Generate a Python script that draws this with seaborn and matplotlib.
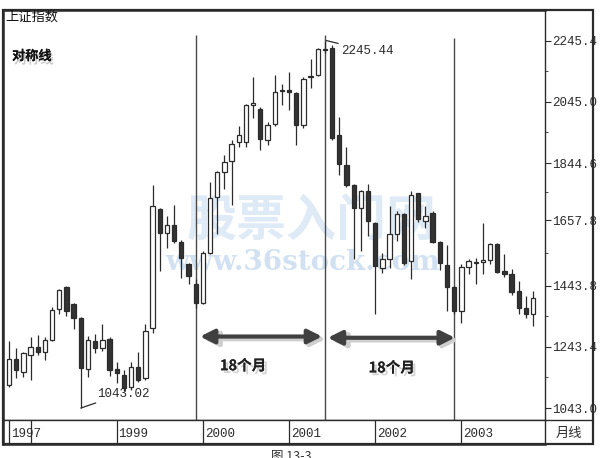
import matplotlib
matplotlib.use("Agg")
import matplotlib.pyplot as plt
import matplotlib.patches as mpatches
import matplotlib.patheffects as pe
import pandas as pd
import seaborn as sns

# monthly candles of the Shanghai index, Oct 1997 - Nov 2003
months = pd.period_range("1997-10", periods=74, freq="M")
opens = [1118, 1202, 1160, 1218, 1244, 1228, 1267, 1368, 1440, 1384,
         1338, 1170, 1264, 1238, 1270, 1170, 1150, 1111, 1176, 1140,
         1306, 1693, 1615, 1641, 1586, 1514, 1449, 1388, 1550, 1735,
         1816, 1852, 1914, 1914, 2035, 2021, 1920, 1972, 2083, 2083,
         2073, 1969, 2125, 2132, 2219, 2222, 1936, 1839, 1774, 1699,
         1754, 1648, 1501, 1530, 1612, 1677, 1524, 1745, 1654, 1680,
         1586, 1511, 1440, 1362, 1505, 1518, 1521, 1528, 1580, 1491,
         1482, 1426, 1371, 1352]
highs = [1264, 1238, 1225, 1274, 1283, 1277, 1375, 1433, 1443, 1388,
         1341, 1280, 1286, 1319, 1274, 1193, 1167, 1193, 1225, 1319,
         1774, 1696, 1670, 1709, 1592, 1517, 1465, 1556, 1784, 1820,
         1872, 1920, 1966, 2037, 2125, 2028, 1979, 2132, 2103, 2141,
         2076, 2125, 2184, 2222, 2245.44, 2230, 1995, 1898, 1777, 1758,
         1777, 1651, 1550, 1703, 1687, 1680, 1752, 1748, 1703, 1687,
         1589, 1576, 1443, 1514, 1531, 1534, 1648, 1583, 1583, 1547,
         1498, 1459, 1410, 1427]
lows = [1111, 1140, 1144, 1134, 1215, 1199, 1264, 1352, 1345, 1303,
        1043.02, 1144, 1222, 1231, 1147, 1124, 1099, 1101, 1128, 1134,
        1287, 1491, 1566, 1582, 1469, 1449, 1371, 1384, 1547, 1612,
        1761, 1709, 1898, 1898, 1992, 1888, 1904, 1966, 2034, 2018,
        1904, 1960, 2089, 2128, 2206, 1920, 1807, 1767, 1530, 1556,
        1605, 1352, 1485, 1501, 1589, 1511, 1466, 1651, 1631, 1583,
        1495, 1362, 1352, 1322, 1482, 1449, 1482, 1514, 1485, 1472,
        1413, 1352, 1339, 1313]
closes = [1205, 1166, 1222, 1244, 1225, 1267, 1365, 1430, 1361, 1339,
          1173, 1267, 1241, 1267, 1166, 1157, 1108, 1176, 1134, 1296,
          1703, 1615, 1641, 1589, 1534, 1475, 1388, 1550, 1729, 1816,
          1849, 1907, 1937, 2034, 2040, 1924, 1969, 2076, 2080, 2078,
          1969, 2119, 2128, 2219, 2216, 1927, 1842, 1774, 1696, 1754,
          1654, 1508, 1530, 1612, 1677, 1518, 1739, 1661, 1670, 1586,
          1518, 1440, 1362, 1505, 1524, 1521, 1528, 1580, 1488, 1482,
          1423, 1371, 1352, 1404]

price_ticks = [1043.0, 1243.4, 1443.8, 1657.8, 1844.6, 2045.0, 2245.4]
year_labels = ["1997", "1999", "2000", "2001", "2002", "2003"]
# symmetric line months: low of Dec 1999, top of Jun 2001, low of Dec 2002
sym_months = ["1999-12", "2001-06", "2002-12"]

df = pd.DataFrame({"month": months.astype(str), "open": opens, "high": highs,
                   "low": lows, "close": closes})
df["idx"] = range(len(df))
df["up"] = df["close"] >= df["open"]

sns.set_theme(style="white")
plt.rcParams["font.family"] = ["Noto Sans CJK SC", "DejaVu Sans"]
mono = ["Liberation Mono", "DejaVu Sans Mono"]

W, H = 600, 458
fig = plt.figure(figsize=(6, 4.58), dpi=100)
fig.patch.set_facecolor("white")

ax = fig.add_axes([3 / W, 1 - 420 / H, 542 / W, 410 / H])
ax2 = fig.add_axes([3 / W, 1 - 444 / H, 542 / W, 24 / H], sharex=ax)

ink = "#2b2b2b"
xmin, xmax = -0.84, 74.65
ymin, ymax = 1003.9, 2336.4

# watermark
ax.text(312 / W, 1 - 222 / H, "股票入门网", transform=fig.transFigure,
        ha="center", va="center", fontsize=36, fontweight="bold",
        color="#d3e3f3", alpha=0.75, zorder=0.5)
ax.text(303 / W, 1 - 262 / H, "www.36stock.com", transform=fig.transFigure,
        ha="center", va="center", fontsize=20, fontweight="bold",
        family="DejaVu Serif", color="#c3d8ee", alpha=0.75, zorder=0.5)

# candles
bw = 0.6
top = df[["open", "close"]].max(axis=1)
bot = df[["open", "close"]].min(axis=1)
ax.vlines(df["idx"], top, df["high"], color=ink, lw=0.9, zorder=2)
ax.vlines(df["idx"], df["low"], bot, color=ink, lw=0.9, zorder=2)
body = (top - bot).clip(lower=1.5)
colors = ["white" if u else "#333333" for u in df["up"]]
ax.bar(df["idx"], body, bottom=bot, width=bw, color=colors,
       edgecolor=ink, linewidth=0.9, zorder=3)

# symmetric vertical lines
sym_idx = [df.index[df["month"] == m][0] for m in sym_months]
ax.vlines(sym_idx, ymin, [2262, 2262, 2255], color="#4a4a4a", lw=1.0, zorder=1)


def double_arrow(x0, x1, y):
    sh = dict(arrowstyle="<|-|>,head_length=0.7,head_width=0.35",
              lw=3.4, color="#cfcfcf", shrinkA=0, shrinkB=0)
    ax.annotate("", xy=(x1 + 0.5, y - 8), xytext=(x0 + 0.5, y - 8),
                arrowprops=sh, zorder=4)
    ar = dict(arrowstyle="<|-|>,head_length=0.7,head_width=0.35",
              lw=3.0, color="#404040", shrinkA=0, shrinkB=0)
    ax.annotate("", xy=(x1, y), xytext=(x0, y), arrowprops=ar, zorder=5)


double_arrow(26.6, 43.6, 1277)
double_arrow(44.4, 62.1, 1273)

shadow = [pe.withSimplePatchShadow(offset=(2, -2), shadow_rgbFace="#aaaaaa",
                                   alpha=0.5), pe.Normal()]
ax.text(32.6, 1183, "18个月", ha="center", va="center", fontsize=10.5,
        fontweight="bold", color="#222222", path_effects=shadow, zorder=6)
ax.text(53.3, 1176, "18个月", ha="center", va="center", fontsize=10.5,
        fontweight="bold", color="#222222", path_effects=shadow, zorder=6)

# extreme annotations
ax.annotate("1043.02", xy=(10, 1043.02), xytext=(12.2, 1090),
            ha="left", va="center", fontsize=9, family=mono, color=ink,
            arrowprops=dict(arrowstyle="-", lw=0.9, color=ink,
                            shrinkA=0, shrinkB=0), zorder=6)
ax.annotate("2245.44", xy=(44.2, 2245.44), xytext=(46.3, 2212),
            ha="left", va="center", fontsize=9, family=mono, color=ink,
            arrowprops=dict(arrowstyle="-", lw=0.9, color=ink,
                            shrinkA=0, shrinkB=0), zorder=6)

# titles
fig.text(5 / W, 1 - 17 / H, "上证指数", ha="left", va="center",
         fontsize=9.5, color="#111111")
fig.text(12 / W, 1 - 56 / H, "对称线", ha="left", va="center",
         fontsize=9.5, fontweight="bold", color="#111111",
         path_effects=[pe.withSimplePatchShadow(offset=(1.5, -2.5),
                                                shadow_rgbFace="#888888",
                                                alpha=0.45), pe.Normal()])

# price axis
ax.set_xlim(xmin, xmax)
ax.set_ylim(ymin, ymax)
ax.yaxis.tick_right()
ax.set_yticks(price_ticks)
ax.set_yticklabels([f"{t:.1f}" for t in price_ticks], family=mono,
                   fontsize=9, color=ink)
ax.set_yticks([(a + b) / 2 for a, b in zip(price_ticks[:-1], price_ticks[1:])]
              + [price_ticks[-1] + 100], minor=True)
ax.tick_params(axis="y", which="major", direction="out", length=4, width=0.8,
               color=ink, pad=1, right=True, left=False)
ax.tick_params(axis="y", which="minor", direction="out", length=2, width=0.6,
               color=ink, right=True, left=False)
ax.tick_params(axis="x", bottom=False, labelbottom=False)
ax.grid(False)
for s in ax.spines.values():
    s.set_color(ink)
    s.set_linewidth(1.0)
ax.spines["left"].set_linewidth(1.8)
ax.spines["top"].set_linewidth(1.8)

# date strip
ax2.set_ylim(0, 1)
ax2.set_yticks([])
ax2.tick_params(axis="x", bottom=False, labelbottom=False)
ax2.grid(False)
for s in ax2.spines.values():
    s.set_color(ink)
    s.set_linewidth(1.0)
ax2.spines["left"].set_linewidth(1.8)
ax2.spines["bottom"].set_linewidth(1.8)
jan_idx = [i for i, m in enumerate(months) if m.month == 1]
ax2.vlines([0] + jan_idx, 0, 1, color=ink, lw=0.9)
label_idx = [0] + [i for i in jan_idx if months[i].year >= 1999]
for i, lab in zip(label_idx, year_labels):
    ax2.text(i + 0.25, 0.42, lab, ha="left", va="center", fontsize=9,
             family=mono, color=ink)

# outer frame and price strip
x0, y0, x1, y1 = 3 / W, 1 - 444 / H, 593 / W, 1 - 10 / H
fig.add_artist(mpatches.Rectangle((x0, y0), x1 - x0, y1 - y0, fill=False,
                                  edgecolor=ink, lw=1.6,
                                  transform=fig.transFigure))
fig.add_artist(plt.Line2D([545 / W, 593 / W], [1 - 420 / H, 1 - 420 / H],
                          color=ink, lw=1.0, transform=fig.transFigure))
fig.text(556 / W, 1 - 433 / H, "月线", ha="left", va="center", fontsize=9.5,
         color=ink)
# figure caption, cut by the bottom edge as in the scan
fig.text(291 / W, 1 - 450 / H, "图 13-3", ha="center", va="top",
         fontsize=9, color="#333333")

fig.savefig("out.png", dpi=100, facecolor="white")
